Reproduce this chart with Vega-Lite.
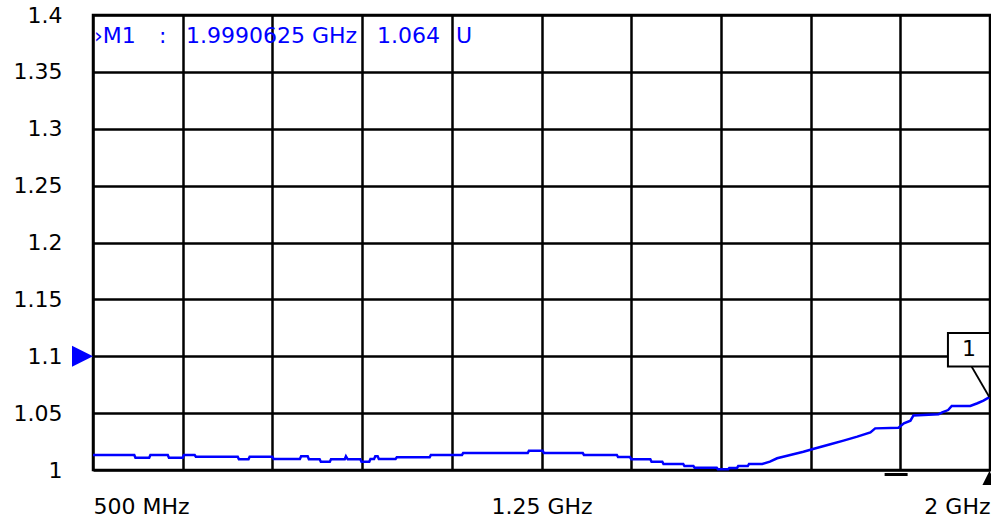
{
  "$schema": "https://vega.github.io/schema/vega-lite/v6.json",
  "width": 897,
  "height": 455,
  "autosize": {"type": "none"},
  "padding": {"left": 93, "top": 15, "right": 1, "bottom": 53},
  "background": "white",
  "config": {
    "view": {"stroke": "black", "strokeWidth": 2.5},
    "font": "DejaVu Sans"
  },
  "datasets": {
    "trace": [
      {"f": 500, "v": 1.0132}, {"f": 569, "v": 1.0132}, {"f": 571, "v": 1.0108}, {"f": 594, "v": 1.0108},
      {"f": 596, "v": 1.0132}, {"f": 625, "v": 1.0132}, {"f": 627, "v": 1.0108}, {"f": 650, "v": 1.0108},
      {"f": 652, "v": 1.0132}, {"f": 670, "v": 1.0132}, {"f": 672, "v": 1.0117}, {"f": 742, "v": 1.0117},
      {"f": 744, "v": 1.0094}, {"f": 760, "v": 1.0094}, {"f": 762, "v": 1.0117}, {"f": 800, "v": 1.0117},
      {"f": 802, "v": 1.0097}, {"f": 846, "v": 1.0097}, {"f": 848, "v": 1.012}, {"f": 859, "v": 1.012},
      {"f": 861, "v": 1.0094}, {"f": 879, "v": 1.0094}, {"f": 881, "v": 1.0073}, {"f": 896, "v": 1.0073},
      {"f": 898, "v": 1.0094}, {"f": 921, "v": 1.0094}, {"f": 923, "v": 1.012}, {"f": 926, "v": 1.0094},
      {"f": 947, "v": 1.0094}, {"f": 949, "v": 1.0073}, {"f": 962, "v": 1.0073}, {"f": 964, "v": 1.0097},
      {"f": 970, "v": 1.0097}, {"f": 972, "v": 1.012}, {"f": 976, "v": 1.012}, {"f": 978, "v": 1.0097},
      {"f": 1006, "v": 1.0097}, {"f": 1008, "v": 1.0111}, {"f": 1063, "v": 1.0111}, {"f": 1065, "v": 1.0132},
      {"f": 1117, "v": 1.0132}, {"f": 1119, "v": 1.0149}, {"f": 1227, "v": 1.0149}, {"f": 1229, "v": 1.017},
      {"f": 1252, "v": 1.017}, {"f": 1254, "v": 1.0149}, {"f": 1319, "v": 1.0149}, {"f": 1321, "v": 1.0132},
      {"f": 1376, "v": 1.0132}, {"f": 1378, "v": 1.0114}, {"f": 1398, "v": 1.0114}, {"f": 1400, "v": 1.0094},
      {"f": 1432, "v": 1.0094}, {"f": 1434, "v": 1.0073}, {"f": 1452, "v": 1.0073}, {"f": 1454, "v": 1.0053},
      {"f": 1487, "v": 1.0053}, {"f": 1489, "v": 1.0035}, {"f": 1504, "v": 1.0035}, {"f": 1506, "v": 1.002},
      {"f": 1543, "v": 1.002}, {"f": 1545, "v": 1.0006}, {"f": 1562, "v": 1.0006}, {"f": 1564, "v": 1.0018},
      {"f": 1577, "v": 1.0018}, {"f": 1579, "v": 1.0035}, {"f": 1595, "v": 1.0035}, {"f": 1597, "v": 1.0053},
      {"f": 1619, "v": 1.0053}, {"f": 1632, "v": 1.0073}, {"f": 1644, "v": 1.0103}, {"f": 1666, "v": 1.0132},
      {"f": 1688, "v": 1.0161}, {"f": 1704, "v": 1.0185}, {"f": 1733, "v": 1.0226}, {"f": 1755, "v": 1.0258},
      {"f": 1778, "v": 1.0293}, {"f": 1800, "v": 1.0331}, {"f": 1808, "v": 1.0366}, {"f": 1847, "v": 1.0372},
      {"f": 1856, "v": 1.0411}, {"f": 1867, "v": 1.0434}, {"f": 1872, "v": 1.048}, {"f": 1914, "v": 1.049},
      {"f": 1920, "v": 1.0507}, {"f": 1930, "v": 1.0527}, {"f": 1936, "v": 1.0563}, {"f": 1967, "v": 1.0563},
      {"f": 1979, "v": 1.0587}, {"f": 1989, "v": 1.061}, {"f": 1999.0625, "v": 1.064}
    ],
    "marker": [
      {"f": 1999.0625, "v": 1.064, "id": "1", "name": "›M1", "sep": ":", "freqLabel": "1.9990625 GHz", "valLabel": "1.064", "unit": "U"}
    ],
    "reflevel": [{"f": 500, "v": 1.1}],
    "dash": [{"f": 1843, "v": 1}]
  },
  "layer": [
    {
      "data": {"name": "trace"},
      "mark": {"type": "line", "color": "#0000ff", "strokeWidth": 2.5, "clip": false},
      "encoding": {
        "x": {
          "field": "f", "type": "quantitative",
          "scale": {"domain": [500, 2000], "nice": false, "zero": false},
          "axis": {
            "title": null,
            "values": [500, 650, 800, 950, 1100, 1250, 1400, 1550, 1700, 1850, 2000],
            "labelExpr": "datum.value == 500 ? '500 MHz' : datum.value == 1250 ? '1.25 GHz' : datum.value == 2000 ? '2 GHz' : ''",
            "labelFlush": true,
            "labelOverlap": false,
            "ticks": false,
            "domain": false,
            "grid": true,
            "gridColor": "black",
            "gridWidth": 2.5,
            "gridOpacity": 1,
            "labelFont": "DejaVu Sans",
            "labelFontSize": 22,
            "labelColor": "#000000",
            "labelPadding": 26
          }
        },
        "y": {
          "field": "v", "type": "quantitative",
          "scale": {"domain": [1, 1.4], "nice": false, "zero": false},
          "axis": {
            "title": null,
            "values": [1, 1.05, 1.1, 1.15, 1.2, 1.25, 1.3, 1.35, 1.4],
            "format": "~g",
            "labelOverlap": false,
            "ticks": false,
            "domain": false,
            "grid": true,
            "gridColor": "black",
            "gridWidth": 2.5,
            "gridOpacity": 1,
            "labelFont": "DejaVu Sans",
            "labelFontSize": 22,
            "labelColor": "#000000",
            "labelPadding": 31
          }
        }
      }
    },
    {
      "data": {"name": "reflevel"},
      "mark": {"type": "point", "shape": "M-1,-1L1,0L-1,1Z", "size": 441, "filled": true, "color": "#0000ff", "opacity": 1, "xOffset": -10.5, "clip": false},
      "encoding": {
        "x": {"field": "f", "type": "quantitative"},
        "y": {"field": "v", "type": "quantitative"}
      }
    },
    {
      "data": {"name": "dash"},
      "mark": {"type": "point", "shape": "stroke", "size": 529, "stroke": "black", "strokeWidth": 3, "opacity": 1, "yOffset": 4.5, "clip": false},
      "encoding": {
        "x": {"field": "f", "type": "quantitative"},
        "y": {"field": "v", "type": "quantitative"}
      }
    },
    {
      "data": {"name": "marker"},
      "mark": {"type": "point", "shape": "M0,-1L1,1L-1,1Z", "size": 196, "filled": true, "color": "black", "opacity": 1, "clip": false, "yOffset": 8},
      "encoding": {
        "x": {"field": "f", "type": "quantitative"},
        "y": {"datum": 1}
      }
    },
    {
      "data": {"name": "marker"},
      "mark": {"type": "rule", "color": "black", "strokeWidth": 1.8, "xOffset": -18, "yOffset": -31, "x2Offset": 0, "y2Offset": 0},
      "encoding": {
        "x": {"field": "f", "type": "quantitative"},
        "y": {"field": "v", "type": "quantitative"},
        "x2": {"field": "f"},
        "y2": {"field": "v"}
      }
    },
    {
      "data": {"name": "marker"},
      "mark": {"type": "point", "shape": "M-1,-0.8L1,-0.8L1,0.8L-1,0.8Z", "size": 1764, "fill": "white", "fillOpacity": 1, "stroke": "black", "strokeWidth": 2, "opacity": 1, "xOffset": -20.5, "yOffset": -47.5, "clip": false},
      "encoding": {
        "x": {"field": "f", "type": "quantitative"},
        "y": {"field": "v", "type": "quantitative"}
      }
    },
    {
      "data": {"name": "marker"},
      "mark": {"type": "text", "font": "DejaVu Sans", "fontSize": 22, "color": "black", "align": "center", "baseline": "middle", "xOffset": -20.5, "yOffset": -48},
      "encoding": {
        "x": {"field": "f", "type": "quantitative"},
        "y": {"field": "v", "type": "quantitative"},
        "text": {"field": "id"}
      }
    },
    {
      "data": {"name": "marker"},
      "mark": {"type": "text", "font": "DejaVu Sans", "fontSize": 22, "color": "#0000ff", "align": "left", "baseline": "middle", "dx": 1, "dy": 21},
      "encoding": {"x": {"datum": 500}, "y": {"datum": 1.4}, "text": {"field": "name"}}
    },
    {
      "data": {"name": "marker"},
      "mark": {"type": "text", "font": "DejaVu Sans", "fontSize": 22, "color": "#0000ff", "align": "left", "baseline": "middle", "dx": 66, "dy": 21},
      "encoding": {"x": {"datum": 500}, "y": {"datum": 1.4}, "text": {"field": "sep"}}
    },
    {
      "data": {"name": "marker"},
      "mark": {"type": "text", "font": "DejaVu Sans", "fontSize": 22, "color": "#0000ff", "align": "left", "baseline": "middle", "dx": 93, "dy": 21},
      "encoding": {"x": {"datum": 500}, "y": {"datum": 1.4}, "text": {"field": "freqLabel"}}
    },
    {
      "data": {"name": "marker"},
      "mark": {"type": "text", "font": "DejaVu Sans", "fontSize": 22, "color": "#0000ff", "align": "left", "baseline": "middle", "dx": 284, "dy": 21},
      "encoding": {"x": {"datum": 500}, "y": {"datum": 1.4}, "text": {"field": "valLabel"}}
    },
    {
      "data": {"name": "marker"},
      "mark": {"type": "text", "font": "DejaVu Sans", "fontSize": 22, "color": "#0000ff", "align": "left", "baseline": "middle", "dx": 363, "dy": 21},
      "encoding": {"x": {"datum": 500}, "y": {"datum": 1.4}, "text": {"field": "unit"}}
    }
  ]
}
